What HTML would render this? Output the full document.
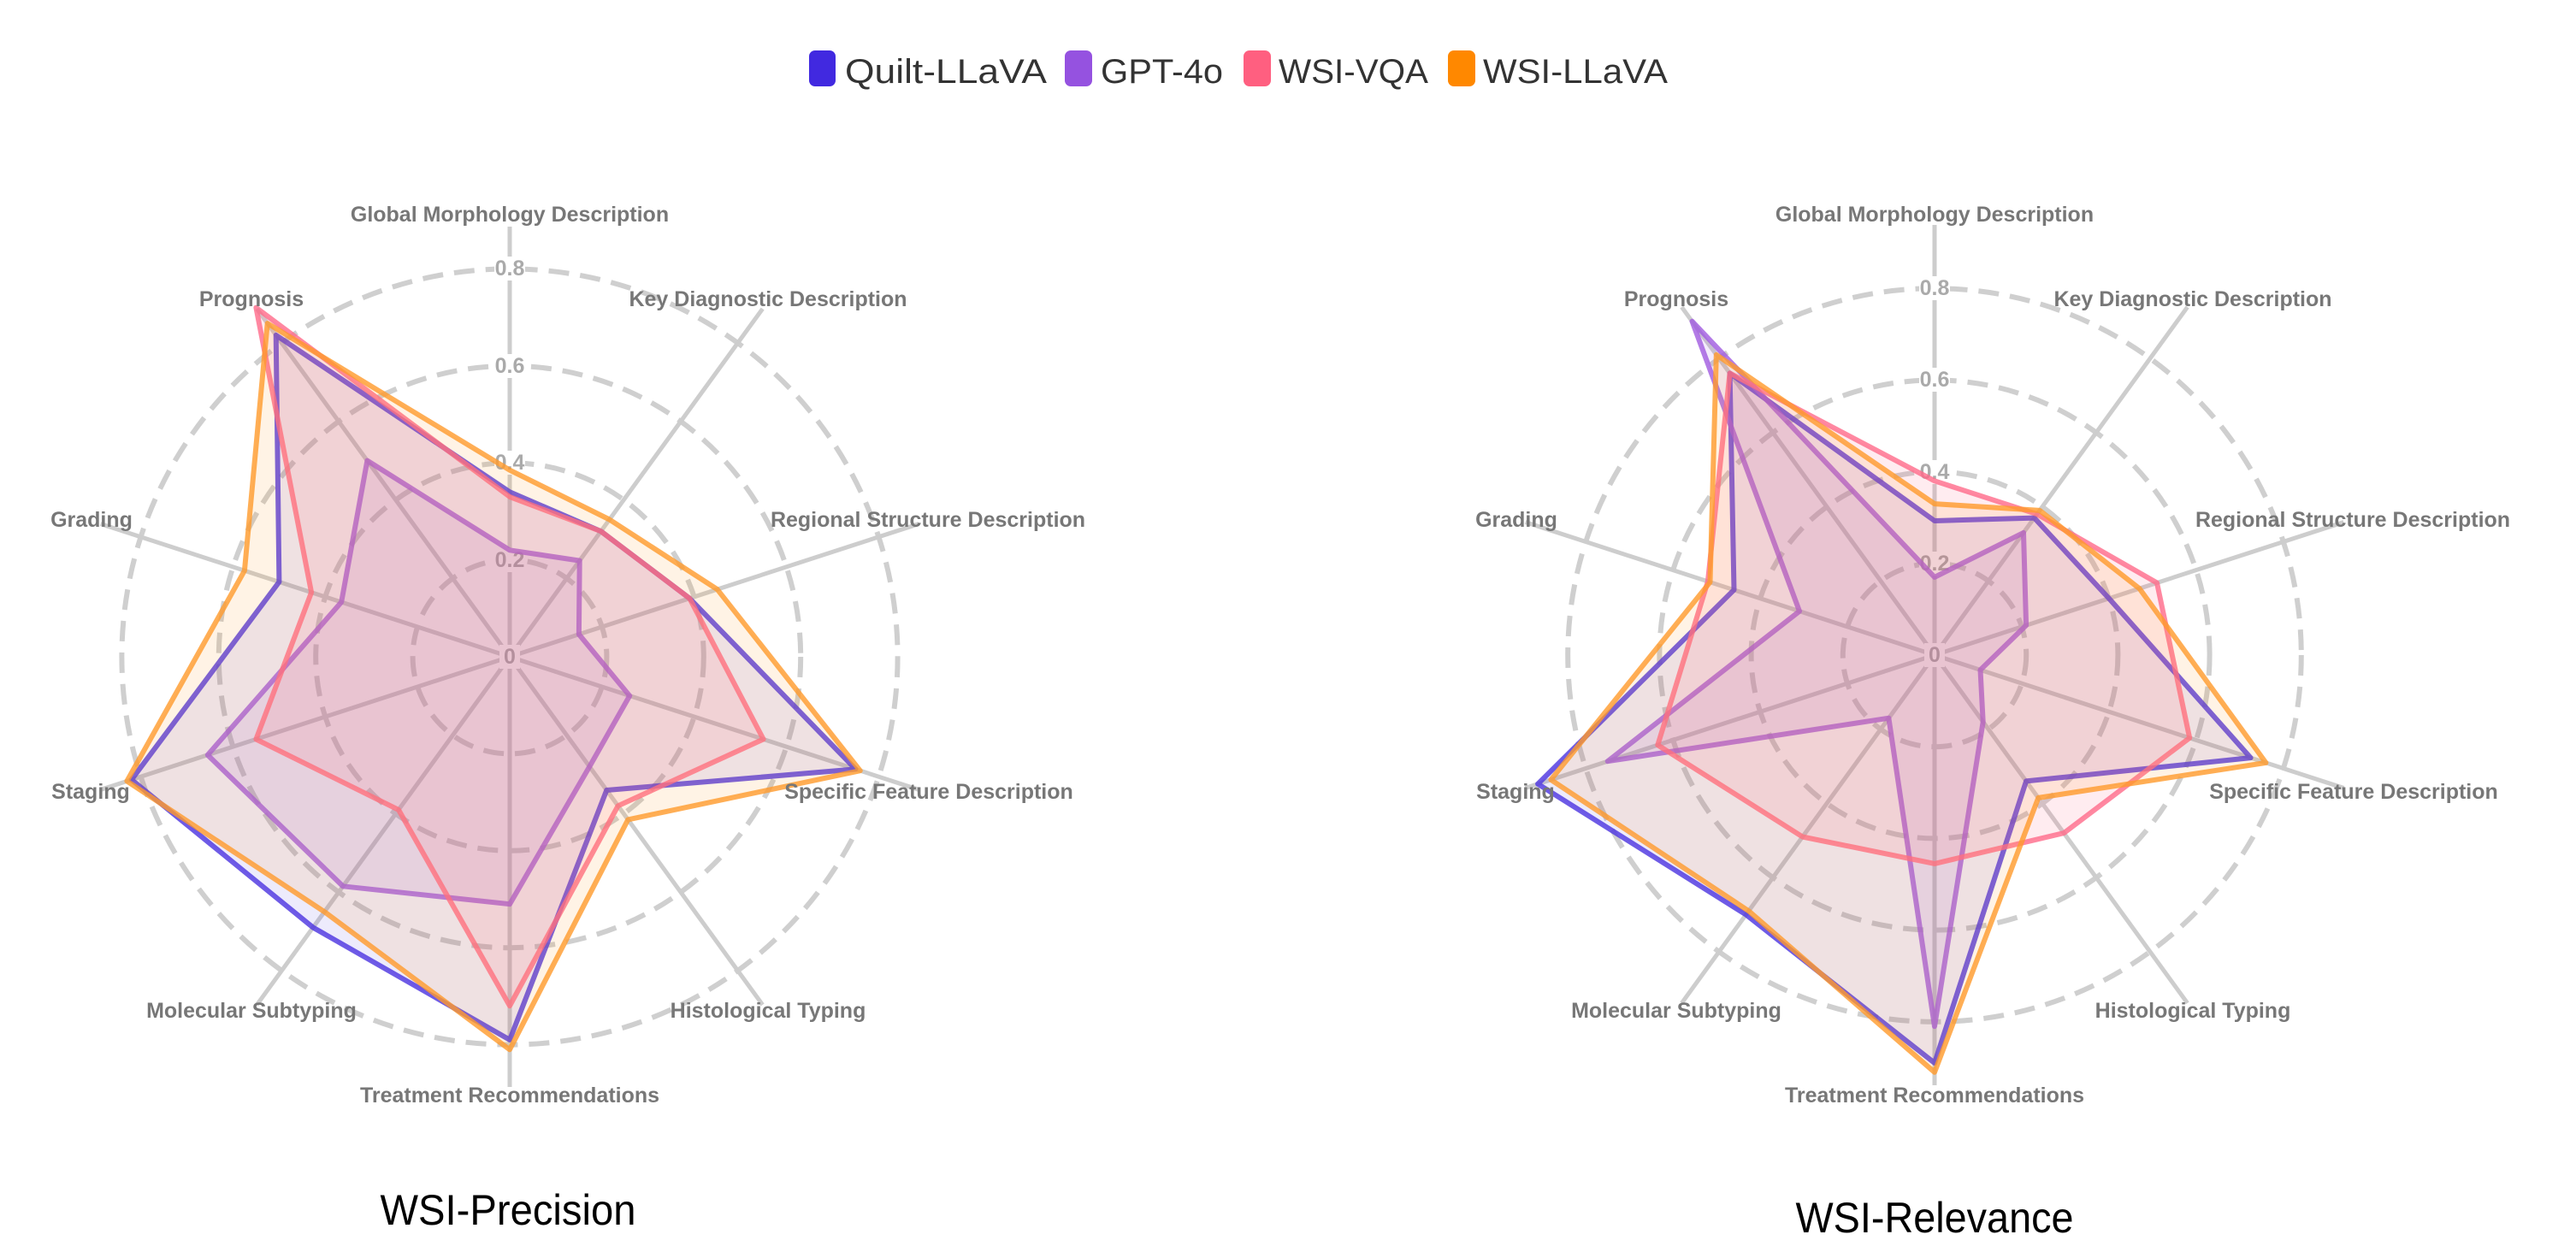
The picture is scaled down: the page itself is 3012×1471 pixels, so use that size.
<!DOCTYPE html>
<html><head><meta charset="utf-8"><style>
html,body{margin:0;padding:0;background:#fff;}
svg{display:block;}
.lab{font-family:"Liberation Sans",sans-serif;font-weight:bold;font-size:25px;fill:#777;text-anchor:middle;}
.tick{font-family:"Liberation Sans",sans-serif;font-weight:bold;font-size:25px;fill:#aaa;text-anchor:middle;dominant-baseline:central;}
.leg{font-family:"Liberation Sans",sans-serif;font-size:40px;fill:#333;}
.title{font-family:"Liberation Sans",sans-serif;font-size:50px;fill:#000;text-anchor:middle;}
</style></head><body>
<svg id="s" width="3012" height="1471" viewBox="0 0 3012 1471" xmlns="http://www.w3.org/2000/svg">
<rect width="3012" height="1471" fill="#fff"/>
<g id="g1"></g><g id="g2"></g>
<g fill="#fff">
<rect x="578" y="641" width="36" height="28"/><rect x="578" y="527" width="36" height="28"/><rect x="578" y="414" width="36" height="28"/><rect x="578" y="300" width="36" height="28"/><rect x="584" y="754" width="24" height="28"/>
<rect x="2244" y="645" width="36" height="28"/><rect x="2244" y="538" width="36" height="28"/><rect x="2244" y="430" width="36" height="28"/><rect x="2244" y="323" width="36" height="28"/><rect x="2250" y="752" width="24" height="28"/>
</g>
<g id="t1">
<text class="tick" x="596" y="768">0</text>
<text class="tick" x="596" y="655">0.2</text>
<text class="tick" x="596" y="541">0.4</text>
<text class="tick" x="596" y="428">0.6</text>
<text class="tick" x="596" y="314">0.8</text>
</g>
<g id="t2">
<text class="tick" x="2262" y="766">0</text>
<text class="tick" x="2262" y="659">0.2</text>
<text class="tick" x="2262" y="552">0.4</text>
<text class="tick" x="2262" y="444">0.6</text>
<text class="tick" x="2262" y="337">0.8</text>
</g>
<g id="c1"></g><g id="c2"></g>
<!-- legend -->
<rect x="946" y="59" width="31" height="42" rx="7" fill="#4129e0"/>
<text class="leg" x="988" y="97" textLength="236" lengthAdjust="spacingAndGlyphs">Quilt-LLaVA</text>
<rect x="1245" y="59" width="32" height="42" rx="7" fill="#9552e0"/>
<text class="leg" x="1287" y="97" textLength="143" lengthAdjust="spacingAndGlyphs">GPT-4o</text>
<rect x="1454" y="59" width="32" height="42" rx="7" fill="#ff5f80"/>
<text class="leg" x="1495" y="97" textLength="175" lengthAdjust="spacingAndGlyphs">WSI-VQA</text>
<rect x="1693" y="59" width="32" height="42" rx="7" fill="#ff8800"/>
<text class="leg" x="1734" y="97" textLength="216" lengthAdjust="spacingAndGlyphs">WSI-LLaVA</text>
<g>
<text class="lab" x="596" y="259">Global Morphology Description</text>
<text class="lab" x="898" y="358">Key Diagnostic Description</text>
<text class="lab" x="1085" y="616">Regional Structure Description</text>
<text class="lab" x="1086" y="934">Specific Feature Description</text>
<text class="lab" x="898" y="1190">Histological Typing</text>
<text class="lab" x="596" y="1289">Treatment Recommendations</text>
<text class="lab" x="294" y="1190">Molecular Subtyping</text>
<text class="lab" x="106" y="934">Staging</text>
<text class="lab" x="107" y="616">Grading</text>
<text class="lab" x="294" y="358">Prognosis</text>
</g>
<g>
<text class="lab" x="2262" y="259">Global Morphology Description</text>
<text class="lab" x="2564" y="358">Key Diagnostic Description</text>
<text class="lab" x="2751" y="616">Regional Structure Description</text>
<text class="lab" x="2752" y="934">Specific Feature Description</text>
<text class="lab" x="2564" y="1190">Histological Typing</text>
<text class="lab" x="2262" y="1289">Treatment Recommendations</text>
<text class="lab" x="1960" y="1190">Molecular Subtyping</text>
<text class="lab" x="1772" y="934">Staging</text>
<text class="lab" x="1773" y="616">Grading</text>
<text class="lab" x="1960" y="358">Prognosis</text>
</g>
<text class="title" x="594" y="1432" textLength="299" lengthAdjust="spacingAndGlyphs">WSI-Precision</text>
<text class="title" x="2262" y="1441" textLength="325" lengthAdjust="spacingAndGlyphs">WSI-Relevance</text>
</svg>
<script>
(function(){
var NS="http://www.w3.org/2000/svg";
var cols=["#4a32e0","#a05ae0","#ff6a8a","#ff9a2a"];
var fills=["rgba(80,60,230,0.10)","rgba(160,90,224,0.12)","rgba(255,100,130,0.12)","rgba(255,154,42,0.12)"];
var L=[
[0.34,0.32,0.39,0.75,0.34,0.79,0.69,0.82,0.50,0.82],
[0.22,0.245,0.15,0.26,0.28,0.51,0.585,0.655,0.365,0.50],
[0.33,0.32,0.39,0.55,0.38,0.72,0.39,0.55,0.43,0.89],
[0.385,0.35,0.45,0.76,0.415,0.81,0.65,0.83,0.575,0.85]];
var R=[
[0.293,0.37,0.40,0.725,0.34,0.89,0.70,0.91,0.46,0.76],
[0.17,0.33,0.21,0.105,0.18,0.81,0.17,0.75,0.31,0.90],
[0.38,0.38,0.51,0.585,0.48,0.455,0.49,0.635,0.52,0.76],
[0.33,0.39,0.47,0.76,0.385,0.91,0.69,0.88,0.515,0.81]];
function el(n,a,p){var e=document.createElementNS(NS,n);for(var k in a)e.setAttribute(k,a[k]);p.appendChild(e);return e;}
function draw(g,pg,cx,cy,unit,data){
  for(var i=1;i<=4;i++)el("circle",{cx:cx,cy:cy,r:unit*0.2*i,fill:"none",stroke:"#cfcfcf","stroke-width":6,"stroke-dasharray":"24 13"},g);
  for(var j=0;j<10;j++){var a=j*Math.PI/5;el("line",{x1:cx,y1:cy,x2:cx+503*Math.sin(a),y2:cy-503*Math.cos(a),stroke:"#cdcdcd","stroke-width":5},g);}
  for(var s=0;s<4;s++){var pts=[];for(var j=0;j<10;j++){var a=j*Math.PI/5,r=data[s][j]*unit;pts.push((cx+r*Math.sin(a)).toFixed(1)+","+(cy-r*Math.cos(a)).toFixed(1));}
    el("polygon",{points:pts.join(" "),fill:fills[s],stroke:cols[s],"stroke-width":6,"stroke-opacity":0.8,"stroke-linejoin":"round"},pg);}
}
draw(document.getElementById("g1"),document.getElementById("c1"),596,768,567,L);
draw(document.getElementById("g2"),document.getElementById("c2"),2262,766,536,R);
})();
</script>
</body></html>
